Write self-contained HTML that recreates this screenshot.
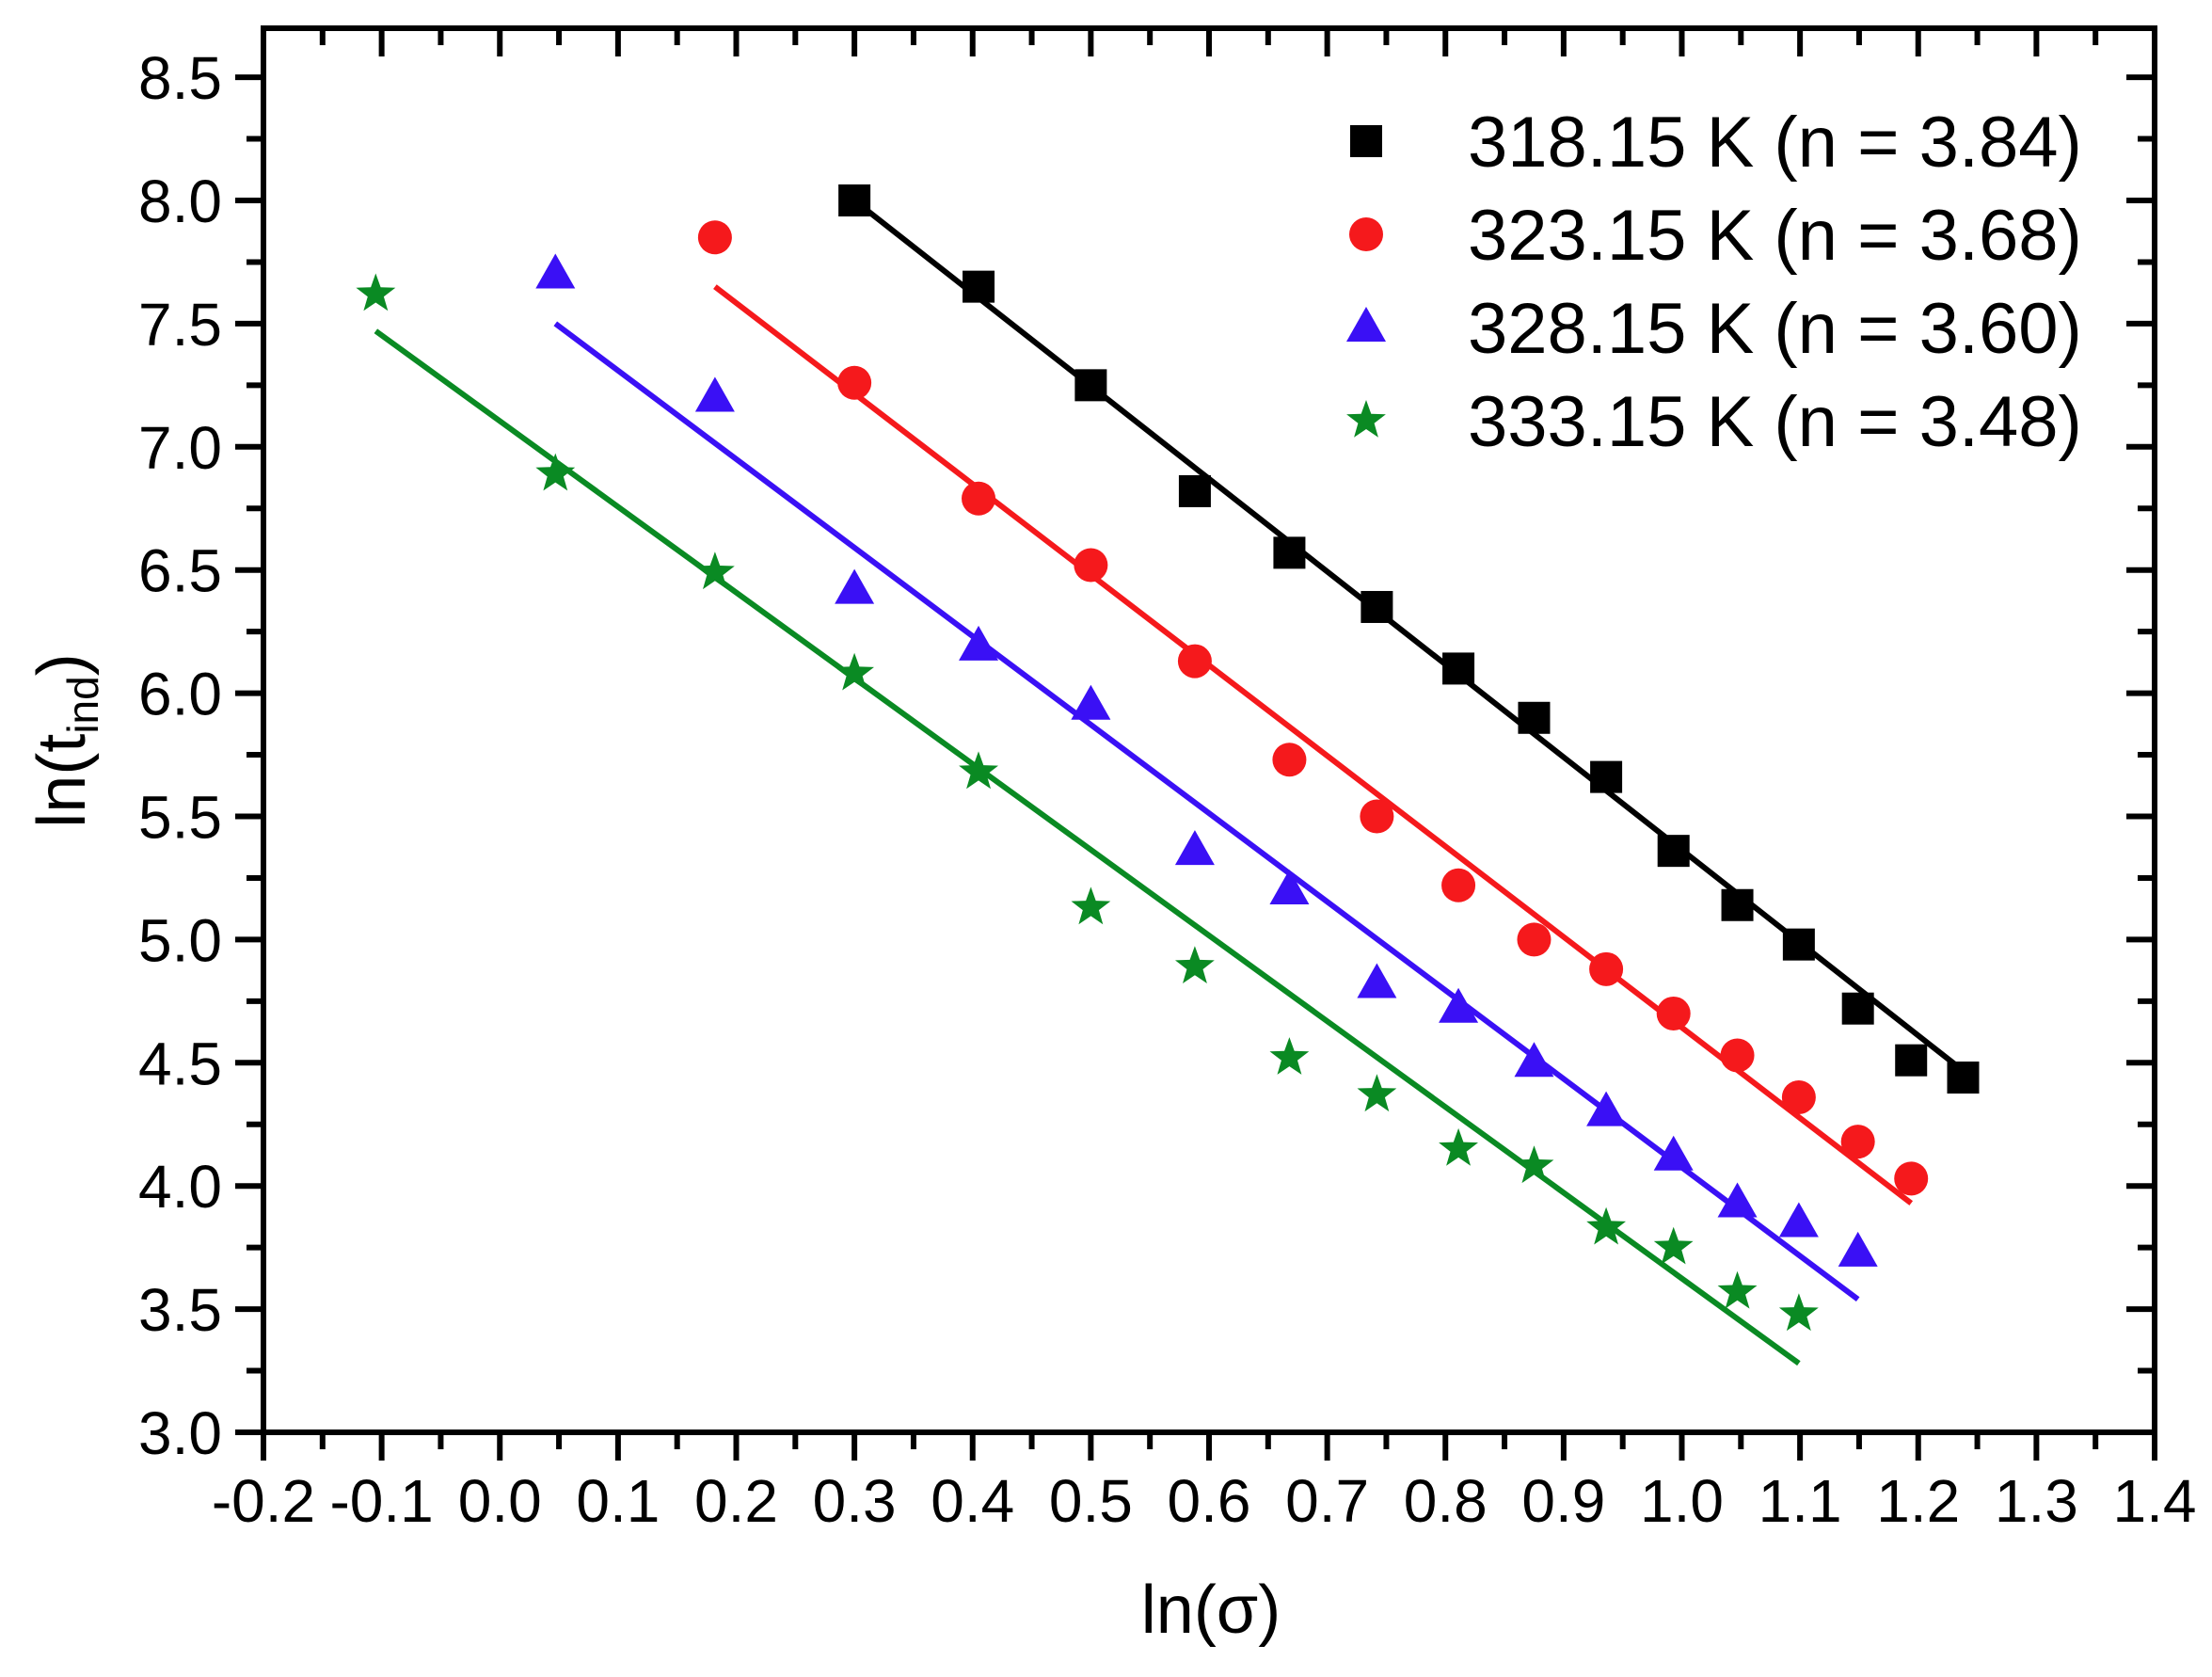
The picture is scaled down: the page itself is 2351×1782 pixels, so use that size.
<!DOCTYPE html>
<html><head><meta charset="utf-8"><style>
html,body{margin:0;padding:0;background:#fff;}
svg text{font-family:"Liberation Sans",Arial,sans-serif;fill:#000;}
</style></head><body>
<svg id="s" width="2351" height="1777" viewBox="0 0 2351 1777" xmlns="http://www.w3.org/2000/svg"></svg>
<script>
const s=document.getElementById('s');
const X=v=>280+(v+0.2)*1256.25, Y=v=>1522-(v-3)*261.8;
let h='<rect width="2351" height="1777" fill="#fff"/>';
for(let i=0;i<=32;i++){const v=-0.2+i*0.05;const x=X(v);const maj=i%2==0;const L=maj?30:18;
 h+=`<line x1="${x}" y1="1522" x2="${x}" y2="${1522+L}" stroke="#000" stroke-width="6"/>`;
 h+=`<line x1="${x}" y1="30" x2="${x}" y2="${30+L}" stroke="#000" stroke-width="6"/>`;
 if(maj){h+=`<text x="${x}" y="1617" font-size="64" text-anchor="middle">${v.toFixed(1)}</text>`;}}
for(let i=0;i<=22;i++){const v=3+i*0.25;const y=Y(v);if(y<30)continue;const maj=i%2==0;const L=maj?30:18;
 h+=`<line x1="280" y1="${y}" x2="${280-L}" y2="${y}" stroke="#000" stroke-width="6"/>`;
 h+=`<line x1="2290" y1="${y}" x2="${2290-L}" y2="${y}" stroke="#000" stroke-width="6"/>`;
 if(maj){h+=`<text x="236" y="${y+23}" font-size="64" text-anchor="end">${v.toFixed(1)}</text>`;}}
h+='<rect x="280" y="30" width="2010" height="1492" fill="none" stroke="#000" stroke-width="6"/>';
h+='<text x="1287" y="1735" font-size="72" text-anchor="middle">ln(σ)</text>';
h+='<text transform="translate(90,787) rotate(-90)" font-size="72" text-anchor="middle">ln(t<tspan font-size="46" dy="14">ind</tspan><tspan dy="-14">)</tspan></text>';
function mk(t,x,y,c){
 if(t=='sq')return `<rect x="${x-17}" y="${y-17}" width="34" height="34" fill="${c}"/>`;
 if(t=='ci')return `<circle cx="${x}" cy="${y}" r="18" fill="${c}"/>`;
 if(t=='tr')return `<polygon points="${x},${y-22} ${x+21},${y+15} ${x-21},${y+15}" fill="${c}"/>`;
 let p=[];for(let k=0;k<10;k++){const r=k%2?9:22;const a=-Math.PI/2+k*Math.PI/5;p.push((x+r*Math.cos(a)).toFixed(1)+','+(y+r*Math.sin(a)).toFixed(1));}
 return `<polygon points="${p.join(' ')}" fill="${c}"/>`;}
const S=[
 ['sq','#000',[0.3,0.405,0.5,0.588,0.668,0.742,0.811,0.875,0.936,0.993,1.047,1.099,1.149,1.194,1.238],[8.0,7.65,7.25,6.82,6.57,6.35,6.10,5.90,5.66,5.36,5.14,4.98,4.72,4.51,4.44],[0.3,8.0,1.24,4.46]],
 ['ci','#f5191c',[0.182,0.3,0.405,0.5,0.588,0.668,0.742,0.811,0.875,0.936,0.993,1.047,1.099,1.149,1.194],[7.85,7.26,6.79,6.52,6.13,5.73,5.50,5.22,5.00,4.88,4.70,4.53,4.36,4.18,4.03],[0.182,7.65,1.194,3.93]],
 ['tr','#3a10f5',[0.047,0.182,0.3,0.405,0.5,0.588,0.668,0.742,0.811,0.875,0.936,0.993,1.047,1.099,1.149],[7.70,7.20,6.42,6.19,5.95,5.36,5.20,4.82,4.72,4.50,4.30,4.12,3.93,3.85,3.73],[0.047,7.50,1.149,3.54]],
 ['st','#0a8a23',[-0.105,0.047,0.182,0.3,0.405,0.5,0.588,0.668,0.742,0.811,0.875,0.936,0.993,1.047,1.099],[7.62,6.89,6.49,6.08,5.68,5.13,4.89,4.52,4.37,4.15,4.08,3.83,3.75,3.57,3.48],[-0.105,7.47,1.099,3.28]]];
const lab=['318.15 K (n = 3.84)','323.15 K (n = 3.68)','328.15 K (n = 3.60)','333.15 K (n = 3.48)'];
S.forEach((q,i)=>{const l=q[4];
 h+=`<line x1="${X(l[0])}" y1="${Y(l[1])}" x2="${X(l[2])}" y2="${Y(l[3])}" stroke="${q[1]}" stroke-width="6"/>`;
 q[2].forEach((x,j)=>{h+=mk(q[0],X(x),Y(q[3][j]),q[1]);});
 const ly=150+i*99;h+=mk(q[0],1452,ly,q[1]);
 h+=`<text x="1560" y="${ly+27}" font-size="76">${lab[i]}</text>`;});
s.innerHTML=h;
</script>
</body></html>
